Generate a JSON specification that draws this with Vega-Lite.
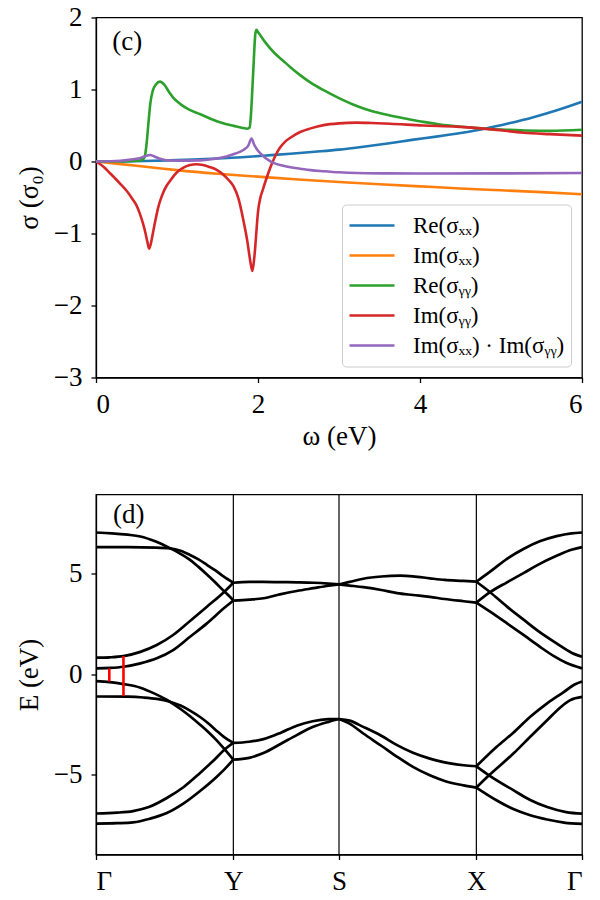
{
  "$schema": "https://vega.github.io/schema/vega-lite/v6.json",
  "padding": {"left": 14, "top": 2.5, "right": 5, "bottom": 5},
  "config": {
    "font": "Liberation Serif",
    "view": {"stroke": "black", "strokeWidth": 1.3},
    "style": {"guide-label": {"font": "Liberation Serif"}, "guide-title": {"font": "Liberation Serif"}},
    "axis": {
      "grid": false, "domainColor": "black", "domainWidth": 1.3, "tickColor": "black", "tickWidth": 1.3, "tickSize": 5,
      "labelFont": "Liberation Serif", "labelFontSize": 27, "labelColor": "black", "labelPadding": 9,
      "titleFont": "Liberation Serif", "titleFontSize": 27, "titleFontWeight": "normal", "titleColor": "black"
    }
  },
  "datasets": {
    "cond": [
      {"s": "Re(σₓₓ)", "w": 0, "v": 0}, {"s": "Re(σₓₓ)", "w": 0.3, "v": 0.002}, {"s": "Re(σₓₓ)", "w": 0.6, "v": 0.006}, {"s": "Re(σₓₓ)", "w": 0.9, "v": 0.015}, {"s": "Re(σₓₓ)", "w": 1.2, "v": 0.027}, {"s": "Re(σₓₓ)", "w": 1.5, "v": 0.042}, {"s": "Re(σₓₓ)", "w": 1.8, "v": 0.06}, {"s": "Re(σₓₓ)", "w": 2.1, "v": 0.083}, {"s": "Re(σₓₓ)", "w": 2.4, "v": 0.107}, {"s": "Re(σₓₓ)", "w": 2.7, "v": 0.135}, {"s": "Re(σₓₓ)", "w": 3.0, "v": 0.165}, {"s": "Re(σₓₓ)", "w": 3.3, "v": 0.205}, {"s": "Re(σₓₓ)", "w": 3.6, "v": 0.25}, {"s": "Re(σₓₓ)", "w": 3.9, "v": 0.3}, {"s": "Re(σₓₓ)", "w": 4.2, "v": 0.345}, {"s": "Re(σₓₓ)", "w": 4.5, "v": 0.395}, {"s": "Re(σₓₓ)", "w": 4.8, "v": 0.455}, {"s": "Re(σₓₓ)", "w": 5.1, "v": 0.53}, {"s": "Re(σₓₓ)", "w": 5.4, "v": 0.615}, {"s": "Re(σₓₓ)", "w": 5.7, "v": 0.715}, {"s": "Re(σₓₓ)", "w": 6.0, "v": 0.83},
      {"s": "Im(σₓₓ)", "w": 0, "v": 0}, {"s": "Im(σₓₓ)", "w": 0.25, "v": -0.03}, {"s": "Im(σₓₓ)", "w": 0.5, "v": -0.06}, {"s": "Im(σₓₓ)", "w": 0.75, "v": -0.09}, {"s": "Im(σₓₓ)", "w": 1.0, "v": -0.12}, {"s": "Im(σₓₓ)", "w": 1.5, "v": -0.17}, {"s": "Im(σₓₓ)", "w": 2.0, "v": -0.21}, {"s": "Im(σₓₓ)", "w": 2.5, "v": -0.25}, {"s": "Im(σₓₓ)", "w": 3.0, "v": -0.285}, {"s": "Im(σₓₓ)", "w": 3.5, "v": -0.315}, {"s": "Im(σₓₓ)", "w": 4.0, "v": -0.345}, {"s": "Im(σₓₓ)", "w": 4.5, "v": -0.375}, {"s": "Im(σₓₓ)", "w": 5.0, "v": -0.4}, {"s": "Im(σₓₓ)", "w": 5.5, "v": -0.425}, {"s": "Im(σₓₓ)", "w": 6.0, "v": -0.455},
      {"s": "Re(σᵧᵧ)", "w": 0, "v": 0}, {"s": "Re(σᵧᵧ)", "w": 0.3, "v": 0.003}, {"s": "Re(σᵧᵧ)", "w": 0.5, "v": 0.01}, {"s": "Re(σᵧᵧ)", "w": 0.57, "v": 0.025}, {"s": "Re(σᵧᵧ)", "w": 0.6, "v": 0.06}, {"s": "Re(σᵧᵧ)", "w": 0.62, "v": 0.2}, {"s": "Re(σᵧᵧ)", "w": 0.645, "v": 0.5}, {"s": "Re(σᵧᵧ)", "w": 0.67, "v": 0.8}, {"s": "Re(σᵧᵧ)", "w": 0.7, "v": 0.98}, {"s": "Re(σᵧᵧ)", "w": 0.74, "v": 1.07}, {"s": "Re(σᵧᵧ)", "w": 0.79, "v": 1.11}, {"s": "Re(σᵧᵧ)", "w": 0.84, "v": 1.07}, {"s": "Re(σᵧᵧ)", "w": 0.9, "v": 0.97}, {"s": "Re(σᵧᵧ)", "w": 0.95, "v": 0.89}, {"s": "Re(σᵧᵧ)", "w": 1.05, "v": 0.79}, {"s": "Re(σᵧᵧ)", "w": 1.15, "v": 0.72}, {"s": "Re(σᵧᵧ)", "w": 1.28, "v": 0.66}, {"s": "Re(σᵧᵧ)", "w": 1.4, "v": 0.6}, {"s": "Re(σᵧᵧ)", "w": 1.5, "v": 0.555}, {"s": "Re(σᵧᵧ)", "w": 1.6, "v": 0.52}, {"s": "Re(σᵧᵧ)", "w": 1.7, "v": 0.495}, {"s": "Re(σᵧᵧ)", "w": 1.8, "v": 0.47}, {"s": "Re(σᵧᵧ)", "w": 1.87, "v": 0.455}, {"s": "Re(σᵧᵧ)", "w": 1.895, "v": 0.47}, {"s": "Re(σᵧᵧ)", "w": 1.91, "v": 0.6}, {"s": "Re(σᵧᵧ)", "w": 1.93, "v": 1.0}, {"s": "Re(σᵧᵧ)", "w": 1.95, "v": 1.45}, {"s": "Re(σᵧᵧ)", "w": 1.965, "v": 1.75}, {"s": "Re(σᵧᵧ)", "w": 1.98, "v": 1.83}, {"s": "Re(σᵧᵧ)", "w": 2.0, "v": 1.8}, {"s": "Re(σᵧᵧ)", "w": 2.1, "v": 1.64}, {"s": "Re(σᵧᵧ)", "w": 2.2, "v": 1.51}, {"s": "Re(σᵧᵧ)", "w": 2.31, "v": 1.4}, {"s": "Re(σᵧᵧ)", "w": 2.4, "v": 1.31}, {"s": "Re(σᵧᵧ)", "w": 2.52, "v": 1.2}, {"s": "Re(σᵧᵧ)", "w": 2.65, "v": 1.095}, {"s": "Re(σᵧᵧ)", "w": 2.81, "v": 0.99}, {"s": "Re(σᵧᵧ)", "w": 3.0, "v": 0.88}, {"s": "Re(σᵧᵧ)", "w": 3.22, "v": 0.77}, {"s": "Re(σᵧᵧ)", "w": 3.4, "v": 0.7}, {"s": "Re(σᵧᵧ)", "w": 3.63, "v": 0.64}, {"s": "Re(σᵧᵧ)", "w": 3.85, "v": 0.59}, {"s": "Re(σᵧᵧ)", "w": 4.04, "v": 0.55}, {"s": "Re(σᵧᵧ)", "w": 4.25, "v": 0.515}, {"s": "Re(σᵧᵧ)", "w": 4.45, "v": 0.49}, {"s": "Re(σᵧᵧ)", "w": 4.65, "v": 0.47}, {"s": "Re(σᵧᵧ)", "w": 4.86, "v": 0.45}, {"s": "Re(σᵧᵧ)", "w": 5.1, "v": 0.44}, {"s": "Re(σᵧᵧ)", "w": 5.3, "v": 0.43}, {"s": "Re(σᵧᵧ)", "w": 5.6, "v": 0.425}, {"s": "Re(σᵧᵧ)", "w": 6.0, "v": 0.44},
      {"s": "Im(σᵧᵧ)", "w": 0, "v": 0}, {"s": "Im(σᵧᵧ)", "w": 0.1, "v": -0.08}, {"s": "Im(σᵧᵧ)", "w": 0.17, "v": -0.16}, {"s": "Im(σᵧᵧ)", "w": 0.25, "v": -0.25}, {"s": "Im(σᵧᵧ)", "w": 0.3, "v": -0.31}, {"s": "Im(σᵧᵧ)", "w": 0.38, "v": -0.41}, {"s": "Im(σᵧᵧ)", "w": 0.45, "v": -0.52}, {"s": "Im(σᵧᵧ)", "w": 0.5, "v": -0.61}, {"s": "Im(σᵧᵧ)", "w": 0.54, "v": -0.72}, {"s": "Im(σᵧᵧ)", "w": 0.58, "v": -0.86}, {"s": "Im(σᵧᵧ)", "w": 0.61, "v": -0.99}, {"s": "Im(σᵧᵧ)", "w": 0.635, "v": -1.12}, {"s": "Im(σᵧᵧ)", "w": 0.655, "v": -1.21}, {"s": "Im(σᵧᵧ)", "w": 0.675, "v": -1.15}, {"s": "Im(σᵧᵧ)", "w": 0.71, "v": -0.95}, {"s": "Im(σᵧᵧ)", "w": 0.74, "v": -0.78}, {"s": "Im(σᵧᵧ)", "w": 0.77, "v": -0.63}, {"s": "Im(σᵧᵧ)", "w": 0.8, "v": -0.52}, {"s": "Im(σᵧᵧ)", "w": 0.83, "v": -0.43}, {"s": "Im(σᵧᵧ)", "w": 0.87, "v": -0.34}, {"s": "Im(σᵧᵧ)", "w": 0.92, "v": -0.26}, {"s": "Im(σᵧᵧ)", "w": 0.96, "v": -0.2}, {"s": "Im(σᵧᵧ)", "w": 1.02, "v": -0.13}, {"s": "Im(σᵧᵧ)", "w": 1.08, "v": -0.085}, {"s": "Im(σᵧᵧ)", "w": 1.16, "v": -0.05}, {"s": "Im(σᵧᵧ)", "w": 1.24, "v": -0.038}, {"s": "Im(σᵧᵧ)", "w": 1.32, "v": -0.05}, {"s": "Im(σᵧᵧ)", "w": 1.4, "v": -0.075}, {"s": "Im(σᵧᵧ)", "w": 1.49, "v": -0.115}, {"s": "Im(σᵧᵧ)", "w": 1.57, "v": -0.18}, {"s": "Im(σᵧᵧ)", "w": 1.64, "v": -0.26}, {"s": "Im(σᵧᵧ)", "w": 1.7, "v": -0.35}, {"s": "Im(σᵧᵧ)", "w": 1.76, "v": -0.52}, {"s": "Im(σᵧᵧ)", "w": 1.82, "v": -0.82}, {"s": "Im(σᵧᵧ)", "w": 1.87, "v": -1.12}, {"s": "Im(σᵧᵧ)", "w": 1.9, "v": -1.35}, {"s": "Im(σᵧᵧ)", "w": 1.93, "v": -1.52}, {"s": "Im(σᵧᵧ)", "w": 1.95, "v": -1.38}, {"s": "Im(σᵧᵧ)", "w": 1.965, "v": -1.2}, {"s": "Im(σᵧᵧ)", "w": 1.985, "v": -0.9}, {"s": "Im(σᵧᵧ)", "w": 2.0, "v": -0.7}, {"s": "Im(σᵧᵧ)", "w": 2.03, "v": -0.5}, {"s": "Im(σᵧᵧ)", "w": 2.06, "v": -0.39}, {"s": "Im(σᵧᵧ)", "w": 2.1, "v": -0.25}, {"s": "Im(σᵧᵧ)", "w": 2.15, "v": -0.09}, {"s": "Im(σᵧᵧ)", "w": 2.21, "v": 0.07}, {"s": "Im(σᵧᵧ)", "w": 2.27, "v": 0.19}, {"s": "Im(σᵧᵧ)", "w": 2.33, "v": 0.27}, {"s": "Im(σᵧᵧ)", "w": 2.4, "v": 0.33}, {"s": "Im(σᵧᵧ)", "w": 2.52, "v": 0.41}, {"s": "Im(σᵧᵧ)", "w": 2.65, "v": 0.46}, {"s": "Im(σᵧᵧ)", "w": 2.81, "v": 0.505}, {"s": "Im(σᵧᵧ)", "w": 3.0, "v": 0.53}, {"s": "Im(σᵧᵧ)", "w": 3.22, "v": 0.54}, {"s": "Im(σᵧᵧ)", "w": 3.4, "v": 0.535}, {"s": "Im(σᵧᵧ)", "w": 3.63, "v": 0.525}, {"s": "Im(σᵧᵧ)", "w": 4.04, "v": 0.5}, {"s": "Im(σᵧᵧ)", "w": 4.45, "v": 0.485}, {"s": "Im(σᵧᵧ)", "w": 4.86, "v": 0.45}, {"s": "Im(σᵧᵧ)", "w": 5.28, "v": 0.4}, {"s": "Im(σᵧᵧ)", "w": 5.6, "v": 0.38}, {"s": "Im(σᵧᵧ)", "w": 6.0, "v": 0.36},
      {"s": "Im(σₓₓ) · Im(σᵧᵧ)", "w": 0, "v": 0}, {"s": "Im(σₓₓ) · Im(σᵧᵧ)", "w": 0.3, "v": 0.01}, {"s": "Im(σₓₓ) · Im(σᵧᵧ)", "w": 0.46, "v": 0.03}, {"s": "Im(σₓₓ) · Im(σᵧᵧ)", "w": 0.55, "v": 0.05}, {"s": "Im(σₓₓ) · Im(σᵧᵧ)", "w": 0.62, "v": 0.08}, {"s": "Im(σₓₓ) · Im(σᵧᵧ)", "w": 0.67, "v": 0.09}, {"s": "Im(σₓₓ) · Im(σᵧᵧ)", "w": 0.72, "v": 0.07}, {"s": "Im(σₓₓ) · Im(σᵧᵧ)", "w": 0.8, "v": 0.035}, {"s": "Im(σₓₓ) · Im(σᵧᵧ)", "w": 0.87, "v": 0.018}, {"s": "Im(σₓₓ) · Im(σᵧᵧ)", "w": 1.0, "v": 0.012}, {"s": "Im(σₓₓ) · Im(σᵧᵧ)", "w": 1.28, "v": 0.015}, {"s": "Im(σₓₓ) · Im(σᵧᵧ)", "w": 1.45, "v": 0.035}, {"s": "Im(σₓₓ) · Im(σᵧᵧ)", "w": 1.61, "v": 0.07}, {"s": "Im(σₓₓ) · Im(σᵧᵧ)", "w": 1.72, "v": 0.11}, {"s": "Im(σₓₓ) · Im(σᵧᵧ)", "w": 1.82, "v": 0.16}, {"s": "Im(σₓₓ) · Im(σᵧᵧ)", "w": 1.88, "v": 0.22}, {"s": "Im(σₓₓ) · Im(σᵧᵧ)", "w": 1.92, "v": 0.32}, {"s": "Im(σₓₓ) · Im(σᵧᵧ)", "w": 1.95, "v": 0.24}, {"s": "Im(σₓₓ) · Im(σᵧᵧ)", "w": 2.0, "v": 0.15}, {"s": "Im(σₓₓ) · Im(σᵧᵧ)", "w": 2.07, "v": 0.07}, {"s": "Im(σₓₓ) · Im(σᵧᵧ)", "w": 2.13, "v": 0.02}, {"s": "Im(σₓₓ) · Im(σᵧᵧ)", "w": 2.19, "v": -0.02}, {"s": "Im(σₓₓ) · Im(σᵧᵧ)", "w": 2.3, "v": -0.055}, {"s": "Im(σₓₓ) · Im(σᵧᵧ)", "w": 2.4, "v": -0.08}, {"s": "Im(σₓₓ) · Im(σᵧᵧ)", "w": 2.52, "v": -0.1}, {"s": "Im(σₓₓ) · Im(σᵧᵧ)", "w": 2.65, "v": -0.12}, {"s": "Im(σₓₓ) · Im(σᵧᵧ)", "w": 2.81, "v": -0.135}, {"s": "Im(σₓₓ) · Im(σᵧᵧ)", "w": 3.0, "v": -0.15}, {"s": "Im(σₓₓ) · Im(σᵧᵧ)", "w": 3.22, "v": -0.16}, {"s": "Im(σₓₓ) · Im(σᵧᵧ)", "w": 3.6, "v": -0.165}, {"s": "Im(σₓₓ) · Im(σᵧᵧ)", "w": 4.0, "v": -0.167}, {"s": "Im(σₓₓ) · Im(σᵧᵧ)", "w": 5.0, "v": -0.165}, {"s": "Im(σₓₓ) · Im(σᵧᵧ)", "w": 6.0, "v": -0.16}
    ],
    "bands": [
      {"b": "A", "k": 0, "e": 7.06}, {"b": "A", "k": 0.15, "e": 7.02}, {"b": "A", "k": 0.3, "e": 6.95}, {"b": "A", "k": 0.42, "e": 6.86}, {"b": "A", "k": 0.56, "e": 6.62}, {"b": "A", "k": 0.7, "e": 6.28}, {"b": "A", "k": 0.8, "e": 6.0}, {"b": "A", "k": 0.89, "e": 5.7}, {"b": "A", "k": 0.97, "e": 5.35}, {"b": "A", "k": 1.05, "e": 4.97}, {"b": "A", "k": 1.13, "e": 4.57}, {"b": "A", "k": 1.21, "e": 4.15}, {"b": "A", "k": 1.26, "e": 3.9}, {"b": "A", "k": 1.3, "e": 3.68},
      {"b": "B", "k": 0, "e": 6.33}, {"b": "B", "k": 0.3, "e": 6.33}, {"b": "B", "k": 0.57, "e": 6.31}, {"b": "B", "k": 0.7, "e": 6.27}, {"b": "B", "k": 0.8, "e": 6.15}, {"b": "B", "k": 0.89, "e": 5.94}, {"b": "B", "k": 0.97, "e": 5.72}, {"b": "B", "k": 1.05, "e": 5.45}, {"b": "B", "k": 1.13, "e": 5.17}, {"b": "B", "k": 1.21, "e": 4.86}, {"b": "B", "k": 1.3, "e": 4.56},
      {"b": "C", "k": 0, "e": 0.83}, {"b": "C", "k": 0.13, "e": 0.85}, {"b": "C", "k": 0.26, "e": 0.91}, {"b": "C", "k": 0.42, "e": 1.12}, {"b": "C", "k": 0.575, "e": 1.46}, {"b": "C", "k": 0.73, "e": 1.96}, {"b": "C", "k": 0.89, "e": 2.66}, {"b": "C", "k": 1.05, "e": 3.37}, {"b": "C", "k": 1.21, "e": 4.09}, {"b": "C", "k": 1.3, "e": 4.56},
      {"b": "D", "k": 0, "e": 0.3}, {"b": "D", "k": 0.13, "e": 0.32}, {"b": "D", "k": 0.26, "e": 0.38}, {"b": "D", "k": 0.42, "e": 0.55}, {"b": "D", "k": 0.575, "e": 0.8}, {"b": "D", "k": 0.73, "e": 1.21}, {"b": "D", "k": 0.89, "e": 1.87}, {"b": "D", "k": 1.05, "e": 2.54}, {"b": "D", "k": 1.21, "e": 3.29}, {"b": "D", "k": 1.3, "e": 3.68},
      {"b": "E", "k": 0, "e": -0.33}, {"b": "E", "k": 0.13, "e": -0.38}, {"b": "E", "k": 0.26, "e": -0.48}, {"b": "E", "k": 0.42, "e": -0.66}, {"b": "E", "k": 0.56, "e": -0.97}, {"b": "E", "k": 0.7, "e": -1.36}, {"b": "E", "k": 0.8, "e": -1.72}, {"b": "E", "k": 0.89, "e": -2.08}, {"b": "E", "k": 0.985, "e": -2.5}, {"b": "E", "k": 1.06, "e": -2.85}, {"b": "E", "k": 1.14, "e": -3.27}, {"b": "E", "k": 1.21, "e": -3.68}, {"b": "E", "k": 1.3, "e": -4.24},
      {"b": "F", "k": 0, "e": -1.1}, {"b": "F", "k": 0.3, "e": -1.11}, {"b": "F", "k": 0.45, "e": -1.15}, {"b": "F", "k": 0.575, "e": -1.22}, {"b": "F", "k": 0.7, "e": -1.36}, {"b": "F", "k": 0.8, "e": -1.55}, {"b": "F", "k": 0.89, "e": -1.8}, {"b": "F", "k": 0.985, "e": -2.12}, {"b": "F", "k": 1.05, "e": -2.38}, {"b": "F", "k": 1.13, "e": -2.75}, {"b": "F", "k": 1.21, "e": -3.11}, {"b": "F", "k": 1.3, "e": -3.41},
      {"b": "G", "k": 0, "e": -6.92}, {"b": "G", "k": 0.2, "e": -6.88}, {"b": "G", "k": 0.35, "e": -6.8}, {"b": "G", "k": 0.5, "e": -6.6}, {"b": "G", "k": 0.67, "e": -6.15}, {"b": "G", "k": 0.83, "e": -5.6}, {"b": "G", "k": 0.985, "e": -4.9}, {"b": "G", "k": 1.1, "e": -4.35}, {"b": "G", "k": 1.237, "e": -3.65}, {"b": "G", "k": 1.3, "e": -3.41},
      {"b": "H", "k": 0, "e": -7.42}, {"b": "H", "k": 0.2, "e": -7.4}, {"b": "H", "k": 0.35, "e": -7.36}, {"b": "H", "k": 0.51, "e": -7.18}, {"b": "H", "k": 0.67, "e": -6.9}, {"b": "H", "k": 0.826, "e": -6.43}, {"b": "H", "k": 0.985, "e": -5.8}, {"b": "H", "k": 1.141, "e": -5.1}, {"b": "H", "k": 1.22, "e": -4.7}, {"b": "H", "k": 1.3, "e": -4.24},
      {"b": "U1", "k": 1.3, "e": 4.56}, {"b": "U1", "k": 1.45, "e": 4.6}, {"b": "U1", "k": 1.585, "e": 4.6}, {"b": "U1", "k": 1.74, "e": 4.59}, {"b": "U1", "k": 1.9, "e": 4.58}, {"b": "U1", "k": 2.06, "e": 4.56}, {"b": "U1", "k": 2.2, "e": 4.52}, {"b": "U1", "k": 2.3, "e": 4.48},
      {"b": "U2", "k": 1.3, "e": 3.67}, {"b": "U2", "k": 1.45, "e": 3.72}, {"b": "U2", "k": 1.585, "e": 3.79}, {"b": "U2", "k": 1.74, "e": 3.98}, {"b": "U2", "k": 1.9, "e": 4.15}, {"b": "U2", "k": 2.06, "e": 4.29}, {"b": "U2", "k": 2.2, "e": 4.41}, {"b": "U2", "k": 2.3, "e": 4.48},
      {"b": "L1", "k": 1.3, "e": -3.41}, {"b": "L1", "k": 1.45, "e": -3.35}, {"b": "L1", "k": 1.585, "e": -3.22}, {"b": "L1", "k": 1.75, "e": -2.9}, {"b": "L1", "k": 1.9, "e": -2.55}, {"b": "L1", "k": 2.05, "e": -2.33}, {"b": "L1", "k": 2.2, "e": -2.23}, {"b": "L1", "k": 2.3, "e": -2.22},
      {"b": "L2", "k": 1.3, "e": -4.24}, {"b": "L2", "k": 1.45, "e": -4.15}, {"b": "L2", "k": 1.585, "e": -3.91}, {"b": "L2", "k": 1.75, "e": -3.45}, {"b": "L2", "k": 1.9, "e": -3.02}, {"b": "L2", "k": 2.05, "e": -2.62}, {"b": "L2", "k": 2.2, "e": -2.36}, {"b": "L2", "k": 2.3, "e": -2.22},
      {"b": "U3", "k": 2.3, "e": 4.48}, {"b": "U3", "k": 2.4, "e": 4.6}, {"b": "U3", "k": 2.53, "e": 4.76}, {"b": "U3", "k": 2.7, "e": 4.87}, {"b": "U3", "k": 2.88, "e": 4.91}, {"b": "U3", "k": 3.0, "e": 4.88}, {"b": "U3", "k": 3.16, "e": 4.78}, {"b": "U3", "k": 3.3, "e": 4.7}, {"b": "U3", "k": 3.48, "e": 4.65}, {"b": "U3", "k": 3.6, "e": 4.61},
      {"b": "U4", "k": 2.3, "e": 4.48}, {"b": "U4", "k": 2.4, "e": 4.42}, {"b": "U4", "k": 2.53, "e": 4.34}, {"b": "U4", "k": 2.7, "e": 4.2}, {"b": "U4", "k": 2.85, "e": 4.04}, {"b": "U4", "k": 3.0, "e": 3.95}, {"b": "U4", "k": 3.16, "e": 3.86}, {"b": "U4", "k": 3.3, "e": 3.75}, {"b": "U4", "k": 3.48, "e": 3.64}, {"b": "U4", "k": 3.6, "e": 3.57},
      {"b": "L3", "k": 2.3, "e": -2.22}, {"b": "L3", "k": 2.4, "e": -2.3}, {"b": "L3", "k": 2.53, "e": -2.61}, {"b": "L3", "k": 2.7, "e": -3.05}, {"b": "L3", "k": 2.85, "e": -3.52}, {"b": "L3", "k": 3.0, "e": -3.9}, {"b": "L3", "k": 3.16, "e": -4.19}, {"b": "L3", "k": 3.3, "e": -4.38}, {"b": "L3", "k": 3.48, "e": -4.52}, {"b": "L3", "k": 3.6, "e": -4.57},
      {"b": "L4", "k": 2.3, "e": -2.22}, {"b": "L4", "k": 2.4, "e": -2.45}, {"b": "L4", "k": 2.53, "e": -2.94}, {"b": "L4", "k": 2.7, "e": -3.55}, {"b": "L4", "k": 2.85, "e": -4.1}, {"b": "L4", "k": 3.0, "e": -4.6}, {"b": "L4", "k": 3.16, "e": -5.02}, {"b": "L4", "k": 3.3, "e": -5.3}, {"b": "L4", "k": 3.48, "e": -5.52}, {"b": "L4", "k": 3.6, "e": -5.63},
      {"b": "R1", "k": 3.6, "e": 4.61}, {"b": "R1", "k": 3.73, "e": 5.11}, {"b": "R1", "k": 3.89, "e": 5.75}, {"b": "R1", "k": 4.05, "e": 6.25}, {"b": "R1", "k": 4.2, "e": 6.62}, {"b": "R1", "k": 4.36, "e": 6.88}, {"b": "R1", "k": 4.5, "e": 7.02}, {"b": "R1", "k": 4.6, "e": 7.06},
      {"b": "R2", "k": 3.6, "e": 3.57}, {"b": "R2", "k": 3.73, "e": 4.09}, {"b": "R2", "k": 3.89, "e": 4.58}, {"b": "R2", "k": 4.05, "e": 5.05}, {"b": "R2", "k": 4.2, "e": 5.5}, {"b": "R2", "k": 4.36, "e": 5.9}, {"b": "R2", "k": 4.5, "e": 6.2}, {"b": "R2", "k": 4.6, "e": 6.33},
      {"b": "D1", "k": 3.6, "e": 4.61}, {"b": "D1", "k": 3.73, "e": 4.09}, {"b": "D1", "k": 3.89, "e": 3.37}, {"b": "D1", "k": 4.05, "e": 2.71}, {"b": "D1", "k": 4.2, "e": 2.1}, {"b": "D1", "k": 4.36, "e": 1.54}, {"b": "D1", "k": 4.5, "e": 1.08}, {"b": "D1", "k": 4.6, "e": 0.88},
      {"b": "D2", "k": 3.6, "e": 3.57}, {"b": "D2", "k": 3.73, "e": 3.12}, {"b": "D2", "k": 3.89, "e": 2.54}, {"b": "D2", "k": 4.05, "e": 1.95}, {"b": "D2", "k": 4.2, "e": 1.38}, {"b": "D2", "k": 4.33, "e": 0.92}, {"b": "D2", "k": 4.45, "e": 0.58}, {"b": "D2", "k": 4.6, "e": 0.3},
      {"b": "R3", "k": 3.6, "e": -4.57}, {"b": "R3", "k": 3.79, "e": -3.61}, {"b": "R3", "k": 3.95, "e": -2.9}, {"b": "R3", "k": 4.11, "e": -2.11}, {"b": "R3", "k": 4.27, "e": -1.44}, {"b": "R3", "k": 4.43, "e": -0.87}, {"b": "R3", "k": 4.53, "e": -0.5}, {"b": "R3", "k": 4.6, "e": -0.35},
      {"b": "R4", "k": 3.6, "e": -5.63}, {"b": "R4", "k": 3.72, "e": -5.02}, {"b": "R4", "k": 3.95, "e": -3.94}, {"b": "R4", "k": 4.11, "e": -3.1}, {"b": "R4", "k": 4.27, "e": -2.28}, {"b": "R4", "k": 4.4, "e": -1.62}, {"b": "R4", "k": 4.49, "e": -1.28}, {"b": "R4", "k": 4.6, "e": -1.12},
      {"b": "D3", "k": 3.6, "e": -4.57}, {"b": "D3", "k": 3.72, "e": -5.02}, {"b": "D3", "k": 3.95, "e": -5.76}, {"b": "D3", "k": 4.11, "e": -6.25}, {"b": "D3", "k": 4.27, "e": -6.6}, {"b": "D3", "k": 4.45, "e": -6.85}, {"b": "D3", "k": 4.6, "e": -6.93},
      {"b": "D4", "k": 3.6, "e": -5.63}, {"b": "D4", "k": 3.79, "e": -6.26}, {"b": "D4", "k": 3.95, "e": -6.7}, {"b": "D4", "k": 4.11, "e": -7.01}, {"b": "D4", "k": 4.27, "e": -7.22}, {"b": "D4", "k": 4.43, "e": -7.37}, {"b": "D4", "k": 4.6, "e": -7.44}
    ]
  },
  "spacing": 42,
  "resolve": {"scale": {"x": "independent", "y": "independent", "color": "independent"}},
  "vconcat": [
    {
      "width": 486, "height": 360,
      "layer": [
        {
          "data": {"name": "cond"},
          "mark": {"type": "line", "strokeWidth": 2.6, "interpolate": "monotone"},
          "encoding": {
            "x": {"field": "w", "type": "quantitative", "scale": {"domain": [0, 6], "nice": false},
                  "axis": {"values": [0, 2, 4, 6], "format": "d", "title": "ω (eV)", "titlePadding": 6,
                           "labelFont": "Liberation Serif", "titleFont": "Liberation Serif"}},
            "y": {"field": "v", "type": "quantitative", "scale": {"domain": [-3, 2], "nice": false},
                  "axis": {"values": [-3, -2, -1, 0, 1, 2], "format": "d", "title": "σ (σ₀)", "titlePadding": 10,
                           "labelFont": "Liberation Serif", "titleFont": "Liberation Serif"}},
            "color": {"field": "s", "type": "nominal",
              "scale": {"domain": ["Re(σₓₓ)", "Im(σₓₓ)", "Re(σᵧᵧ)", "Im(σᵧᵧ)", "Im(σₓₓ) · Im(σᵧᵧ)"],
                        "range": ["#1f77b4", "#ff7f0e", "#2ca02c", "#d62728", "#9467bd"]},
              "legend": {"title": null, "orient": "bottom-right", "offset": 11, "fillColor": "white",
                         "strokeColor": "#cccccc", "cornerRadius": 4, "padding": 6,
                         "symbolType": "stroke", "symbolSize": 2025, "symbolStrokeWidth": 2.6,
                         "labelFont": "Liberation Serif", "labelFontSize": 23, "labelColor": "black",
                         "labelOffset": 17, "clipHeight": 30, "rowPadding": 0}}
          }
        },
        {
          "mark": {"type": "rule", "color": "black", "strokeWidth": 1.1},
          "encoding": {"y": {"datum": 0}}
        },
        {
          "data": {"values": [{"w": 0.2, "v": 1.66, "t": "(c)"}]},
          "mark": {"type": "text", "align": "left", "baseline": "middle", "fontSize": 27, "color": "black", "font": "Liberation Serif"},
          "encoding": {"x": {"field": "w", "type": "quantitative"}, "y": {"field": "v", "type": "quantitative"}, "text": {"field": "t"}}
        }
      ]
    },
    {
      "width": 486, "height": 360,
      "layer": [
        {
          "data": {"values": [{"k": 1.3}, {"k": 2.3}, {"k": 3.6}]},
          "mark": {"type": "rule", "color": "black", "strokeWidth": 1.2},
          "encoding": {"x": {"field": "k", "type": "quantitative"}}
        },
        {
          "data": {"name": "bands"},
          "mark": {"type": "line", "strokeWidth": 2.7, "color": "black", "interpolate": "monotone"},
          "encoding": {
            "x": {"field": "k", "type": "quantitative", "scale": {"domain": [0, 4.6], "nice": false},
                  "axis": {"values": [0, 1.3, 2.3, 3.6, 4.6], "title": null, "labelFont": "Liberation Serif",
                           "labelExpr": "datum.value == 1.3 ? 'Y' : datum.value == 2.3 ? 'S' : datum.value == 3.6 ? 'X' : 'Γ'"}},
            "y": {"field": "e", "type": "quantitative", "scale": {"domain": [-8.96, 8.95], "nice": false},
                  "axis": {"values": [-5, 0, 5], "format": "d", "title": "E (eV)", "titlePadding": 10,
                           "labelFont": "Liberation Serif", "titleFont": "Liberation Serif"}},
            "detail": {"field": "b", "type": "nominal"}
          }
        },
        {
          "data": {"values": [{"k": 0.126, "lo": -0.35, "hi": 0.3}, {"k": 0.26, "lo": -1.08, "hi": 0.91}]},
          "mark": {"type": "rule", "color": "#ff0000", "strokeWidth": 2.6},
          "encoding": {"x": {"field": "k", "type": "quantitative"}, "y": {"field": "lo", "type": "quantitative"}, "y2": {"field": "hi"}}
        },
        {
          "data": {"values": [{"k": 0.16, "e": 7.94, "t": "(d)"}]},
          "mark": {"type": "text", "align": "left", "baseline": "middle", "fontSize": 27, "color": "black", "font": "Liberation Serif"},
          "encoding": {"x": {"field": "k", "type": "quantitative"}, "y": {"field": "e", "type": "quantitative"}, "text": {"field": "t"}}
        }
      ]
    }
  ]
}
